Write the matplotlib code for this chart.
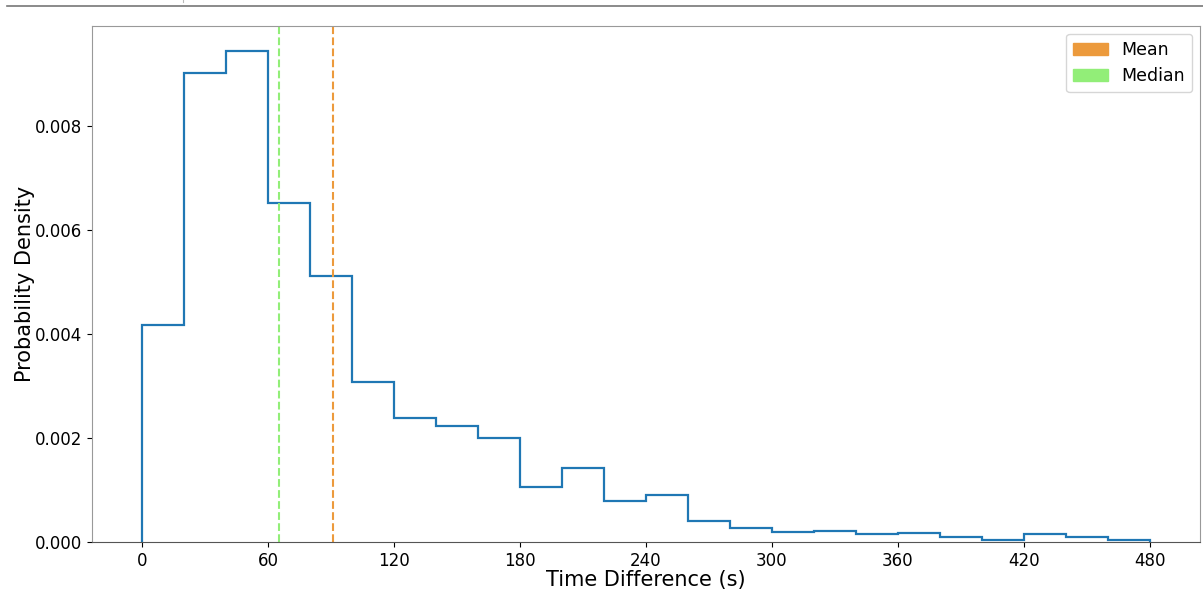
import matplotlib
matplotlib.use("Agg")
import matplotlib.pyplot as plt
import matplotlib.patches as mpatches
from matplotlib.lines import Line2D
import numpy as np

# Histogram bins (seconds) and probability densities
bin_edges = list(range(0, 481, 20))
densities = [
    0.00417, 0.00902, 0.00946, 0.00652, 0.00513, 0.00308,
    0.00239, 0.00223, 0.00200, 0.00106, 0.00142, 0.00079,
    0.00090, 0.00040, 0.00027, 0.00019, 0.00022, 0.00015,
    0.00017, 0.00010, 0.00004, 0.00015, 0.00010, 0.00004,
]
mean_value = 91.0
median_value = 65.2
x_ticks = [0, 60, 120, 180, 240, 300, 360, 420, 480]

mean_color = "#ec9a3c"
median_color = "#92ee78"

fig = plt.figure(figsize=(12.03, 6.02), dpi=100)
ax = fig.add_axes([92 / 1203, 1 - 542 / 602, (1200 - 92) / 1203, (542 - 26) / 602])

ax.hist(bin_edges[:-1], bins=bin_edges, weights=densities,
        histtype="step", color="#1f77b4", linewidth=1.6)
ax.axvline(mean_value, color=mean_color, linestyle="--", linewidth=1.5)
ax.axvline(median_value, color=median_color, linestyle="--", linewidth=1.5)

ax.set_xticks(x_ticks)
ax.set_yticks([0.0, 0.002, 0.004, 0.006, 0.008])
ax.set_yticklabels(["0.000", "0.002", "0.004", "0.006", "0.008"])
ax.tick_params(labelsize=12)
ax.set_xlabel("Time Difference (s)", fontsize=15, labelpad=0)
ax.set_ylabel("Probability Density", fontsize=15, labelpad=0)

for side in ["top", "right", "left"]:
    ax.spines[side].set_color("#999999")
ax.spines["bottom"].set_color("#555555")

handles = [mpatches.Patch(color=mean_color, label="Mean"),
           mpatches.Patch(color=median_color, label="Median")]
ax.legend(handles=handles, loc="upper right", fontsize=12.5,
          borderaxespad=0.45)

# Separator line at the top of the picture
fig.add_artist(Line2D([7 / 1203, 1], [1 - 6 / 602, 1 - 6 / 602],
                      color="#777777", linewidth=1.2))
fig.add_artist(Line2D([183 / 1203, 183 / 1203], [1, 1 - 2 / 602],
                      color="#bbbbbb", linewidth=0.8))

fig.savefig("out.png", dpi=100, facecolor="white")
